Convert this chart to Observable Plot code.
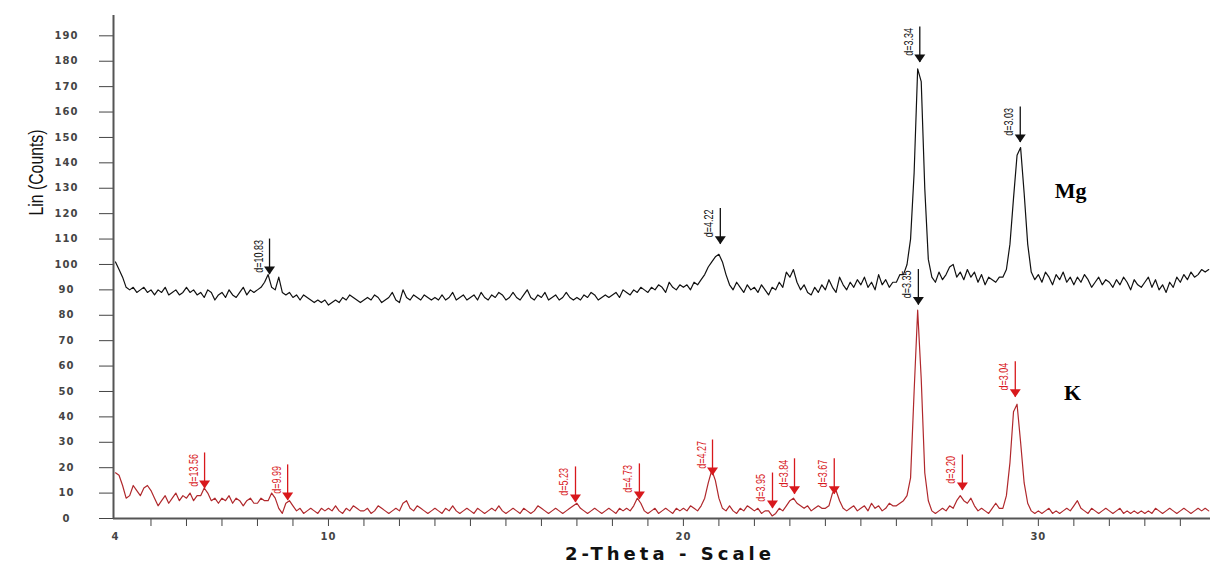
<!DOCTYPE html>
<html>
<head>
<meta charset="utf-8">
<script src="https://cdn.jsdelivr.net/npm/d3@7"></script>
<script src="https://cdn.jsdelivr.net/npm/@observablehq/plot@0.6"></script>
<style>
  html, body { margin: 0; padding: 0; background: #fff; }
  #chart { width: 1210px; height: 563px; overflow: hidden; }
</style>
</head>
<body>
<div id="chart"></div>
<script>
// ---------- data ----------
const xTitle = "2-Theta - Scale";
const yTitle = "Lin (Counts)";
const seriesNames = ["Mg", "K"];

const thetaStart = 4.0;     // first sample (degrees 2-theta)
const thetaStep = 0.1;      // sampling interval

// Mg-saturated sample (black)
const mgCounts = [
  101, 98, 95, 91, 90, 91, 89, 90, 91, 89,
  90, 88, 90, 89, 91, 88, 89, 90, 88, 89,
  91, 89, 90, 88, 89, 87, 90, 89, 86, 88,
  89, 87, 90, 88, 87, 89, 91, 88, 90, 89,
  90, 91, 93, 96, 91, 90, 95, 89, 88, 89,
  87, 88, 86, 88, 87, 86, 85, 86, 85, 86,
  84, 85, 86, 85, 87, 86, 88, 87, 86, 85,
  86, 87, 86, 88, 87, 85, 86, 87, 89, 86,
  85, 90, 87, 86, 88, 87, 86, 88, 87, 86,
  87, 86, 88, 86, 87, 89, 86, 87, 88, 86,
  87, 88, 86, 89, 87, 86, 88, 87, 89, 88,
  86, 87, 89, 87, 86, 88, 90, 87, 86, 88,
  87, 89, 86, 87, 88, 86, 87, 89, 87, 86,
  87, 86, 88, 87, 89, 88, 86, 87, 88, 87,
  88, 89, 87, 90, 89, 88, 90, 89, 91, 90,
  89, 91, 90, 92, 91, 89, 93, 91, 90, 92,
  91, 92, 90, 93, 92, 94, 96, 99, 101, 103,
  104, 101, 96, 92, 90, 93, 91, 89, 92, 90,
  91, 89, 92, 90, 88, 91, 90, 93, 91, 97,
  95, 98, 93, 90, 92, 89, 88, 91, 89, 92,
  90, 94, 91, 89, 95, 92, 90, 93, 91, 94,
  92, 95, 91, 93, 90, 96, 92, 94, 91, 93,
  93, 96, 96, 100, 110, 136, 177, 172, 130, 102,
  95, 93, 97, 94, 96, 99, 100, 95, 97, 94,
  98, 95, 97, 93, 96, 92, 95, 94, 93, 95,
  95, 98, 108, 126, 143, 146, 128, 108, 97, 94,
  96, 93, 97, 95, 92, 96, 94, 97, 93, 95,
  92, 95, 93, 96, 94, 91, 93, 95, 92, 94,
  93, 91, 94, 92, 95, 93, 90, 94, 92, 91,
  93, 95, 91, 94, 90, 92, 89, 93, 91, 95,
  93, 96, 94, 97, 95, 96, 98, 97, 98
];

// K-saturated sample (red)
const kCounts = [
  18, 17, 13, 8, 9, 13, 11, 9, 12, 13,
  11, 8, 5, 7, 9, 6, 8, 10, 7, 9,
  8, 10, 7, 9, 9, 12, 10, 7, 8, 6,
  8, 7, 9, 6, 8, 7, 5, 7, 8, 6,
  6, 8, 7, 7, 10, 8, 4, 2, 6, 7,
  5, 3, 4, 2, 3, 4, 3, 2, 4, 3,
  4, 3, 5, 3, 2, 4, 3, 5, 4, 3,
  3, 4, 2, 3, 5, 4, 3, 2, 3, 4,
  3, 6, 7, 4, 3, 5, 4, 3, 2, 3,
  4, 3, 2, 4, 3, 5, 3, 2, 3, 4,
  3, 2, 4, 3, 2, 3, 4, 3, 5, 3,
  2, 3, 4, 3, 2, 4, 3, 2, 3, 5,
  4, 3, 2, 3, 4, 3, 2, 3, 4, 5,
  6, 4, 3, 2, 3, 4, 3, 2, 3, 4,
  3, 2, 4, 3, 4, 3, 5, 8, 6, 3,
  2, 3, 4, 2, 3, 4, 3, 2, 4, 3,
  4, 3, 5, 4, 3, 5, 8, 14, 19, 15,
  8, 4, 3, 5, 3, 2, 4, 3, 5, 4,
  3, 4, 2, 3, 3, 1, 2, 4, 3, 5,
  7, 8, 6, 5, 4, 5, 3, 4, 5, 4,
  4, 5, 10, 11, 7, 4, 3, 4, 5, 3,
  4, 5, 3, 6, 4, 5, 3, 4, 6, 5,
  5, 6, 7, 9, 16, 50, 82, 55, 18, 7,
  3, 2, 3, 4, 3, 5, 4, 7, 9, 7,
  6, 8, 5, 3, 4, 3, 2, 4, 6, 4,
  4, 9, 22, 42, 45, 30, 14, 6, 3, 2,
  3, 2, 3, 4, 2, 3, 2, 3, 4, 3,
  5, 7, 4, 3, 2, 4, 3, 2, 3, 4,
  3, 2, 3, 4, 2, 3, 2, 3, 2, 3,
  2, 3, 2, 4, 3, 2, 3, 4, 3, 2,
  3, 4, 3, 2, 3, 4, 3, 4, 3
];

// peak annotations (d-spacing labels), black group and red group
const blackPeakLabels = ["d=10.83", "d=4.22", "d=3.34", "d=3.03", "d=3.35"];
const blackPeakTheta  = [8.34, 21.04, 26.66, 29.49, 26.62];
const blackPeakTip    = [96, 108, 179.5, 148, 84];

const redPeakLabels = ["d=13.56", "d=9.99", "d=5.23", "d=4.73", "d=4.27", "d=3.95", "d=3.84", "d=3.67", "d=3.20", "d=3.04"];
const redPeakTheta  = [6.51, 8.85, 16.96, 18.76, 20.82, 22.51, 23.13, 24.25, 27.86, 29.35];
const redPeakTip    = [11.8, 7.1, 6.3, 7.5, 16.9, 3.9, 9.5, 9.5, 11, 47.7];

const xDomain = [3.944, 34.85];
const yDomain = [0, 198];
const xLabelTicks = [4, 10, 20, 30];
const xMinorTicks = d3.range(5, 35);
const yTicks = d3.range(0, 200, 10);

// ---------- build tables ----------
const toRows = (vals, name) => vals.map((v, i) => ({
  theta: +(thetaStart + i * thetaStep).toFixed(2), counts: v, series: name
}));
const mgRows = toRows(mgCounts, seriesNames[0]);
const kRows = toRows(kCounts, seriesNames[1]);
const toPeaks = (labels, thetas, tips) => labels.map((l, i) => ({label: l, theta: thetas[i], tip: tips[i]}));
const blackPeaks = toPeaks(blackPeakLabels, blackPeakTheta, blackPeakTip);
const redPeaks = toPeaks(redPeakLabels, redPeakTheta, redPeakTip);

const arrowLen = 14; // in counts
const downTriangle = {
  draw(ctx) { ctx.moveTo(-5.5, -8); ctx.lineTo(5.5, -8); ctx.lineTo(0, 0); ctx.closePath(); }
};
const BLACK = "#111";
const RED_LINE = "#b0282c";
const RED_MARK = "#d8181c";
const sans = "'Liberation Sans', Arial, sans-serif";

function peakMarks(peaks, color) {
  return [
    Plot.ruleX(peaks, {x: "theta", y1: "tip", y2: d => d.tip + arrowLen, stroke: color, strokeWidth: 1.3}),
    Plot.dot(peaks, {x: "theta", y: "tip", symbol: downTriangle, fill: color, stroke: "none"}),
    Plot.text(peaks, {x: "theta", y: d => d.tip + arrowLen, text: "label", rotate: -90, textAnchor: "end",
      lineAnchor: "middle", dx: -11, dy: 1, fontSize: 12.5, fontFamily: sans, fill: color})
  ];
}

const chart = Plot.plot({
  width: 1210,
  height: 563,
  marginLeft: 113,
  marginRight: 0,
  marginTop: 15,
  marginBottom: 45,
  style: {background: "#fff", fontFamily: "'DejaVu Sans', sans-serif", overflow: "visible"},
  x: {domain: xDomain},
  y: {domain: yDomain},
  marks: [
    Plot.axisY({ticks: yTicks, tickSize: 14, tickPadding: 33, textAnchor: "middle", label: null,
      fontSize: 10, fontWeight: "bold", color: "#444"}),
    Plot.axisX({ticks: xMinorTicks, tickSize: 8, tickFormat: () => "", label: null, color: "#444"}),
    Plot.axisX({ticks: xLabelTicks, tickSize: 0, tickPadding: 14, label: null,
      fontSize: 10, fontWeight: "bold", color: "#444"}),
    Plot.ruleX([xDomain[0]], {stroke: "#555", strokeWidth: 2}),
    Plot.ruleY([0], {stroke: "#555", strokeWidth: 2}),
    Plot.line(mgRows, {x: "theta", y: "counts", stroke: BLACK, strokeWidth: 1.2}),
    Plot.line(kRows, {x: "theta", y: "counts", stroke: RED_LINE, strokeWidth: 1.2}),
    ...peakMarks(redPeaks, RED_MARK),
    ...peakMarks(blackPeaks, BLACK),
    Plot.text([yTitle], {frameAnchor: "top-left", dx: -77, dy: 157, rotate: -90, textAnchor: "middle",
      lineAnchor: "middle", fontSize: 21, fontFamily: sans, fill: "#111"}),
    Plot.text([xTitle], {frameAnchor: "bottom", dx: 6, dy: 41, fontSize: 18, fontWeight: "bold",
      fontFamily: "'DejaVu Sans', sans-serif", fill: "#111"}),
    Plot.text([seriesNames[0]], {frameAnchor: "top-left", dx: 957, dy: 175, textAnchor: "middle", lineAnchor: "middle",
      fontSize: 22, fontWeight: "bold", fontFamily: "'Liberation Serif', 'Times New Roman', serif", fill: "#000"}),
    Plot.text([seriesNames[1]], {frameAnchor: "top-left", dx: 959, dy: 377, textAnchor: "middle", lineAnchor: "middle",
      fontSize: 22, fontWeight: "bold", fontFamily: "'Liberation Serif', 'Times New Roman', serif", fill: "#000"})
  ]
});

document.getElementById("chart").appendChild(chart);

// text fitting: condensed labels, stretched x title, widened tick labels
chart.querySelectorAll("text").forEach(t => {
  const s = t.textContent;
  if (s === xTitle) {
    t.setAttribute("textLength", 206);
    t.setAttribute("lengthAdjust", "spacing");
  } else if (s.startsWith("d=")) {
    const w = t.getComputedTextLength();
    t.setAttribute("textLength", (w * 0.72).toFixed(1));
    t.setAttribute("lengthAdjust", "spacingAndGlyphs");
  } else if (s === yTitle) {
    t.setAttribute("textLength", 86);
    t.setAttribute("lengthAdjust", "spacingAndGlyphs");
  }
});
chart.querySelectorAll('g[aria-label="y-axis tick label"] text, g[aria-label="x-axis tick label"] text')
  .forEach(t => t.setAttribute("letter-spacing", "1"));
</script>
</body>
</html>
